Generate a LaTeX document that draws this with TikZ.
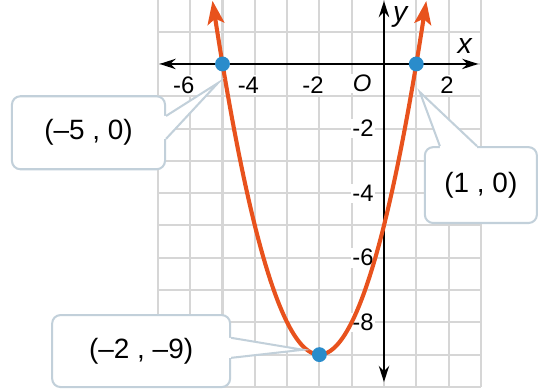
\documentclass[tikz,border=0pt]{standalone}
\usepackage{fontspec}
\setmainfont{Liberation Sans}
\usepackage{tikz}
\usetikzlibrary{positioning,arrows.meta,calc}
\definecolor{curveorange}{HTML}{E8521D}
\definecolor{ptblue}{HTML}{2A8CCB}
\definecolor{gridgray}{HTML}{D6D6D6}
\definecolor{calloutrim}{HTML}{C2D0DA}

\begin{document}
\begin{tikzpicture}[x=5mm,y=5mm,
  >={Stealth[length=2.5mm,width=1.6mm]},
  ticklbl/.style={font=\fontsize{10.5}{12}\selectfont,fill=white,inner sep=0.6pt},
  axislbl/.style={font=\fontsize{12.5}{14}\selectfont\itshape},
  callout/.style={draw=calloutrim,line width=0.9pt,fill=white,rounded corners=1.3mm,
    font=\fontsize{12.3}{14}\selectfont},
  ptdot/.style={circle,fill=ptblue,inner sep=0pt,minimum size=2.3mm}]
\useasboundingbox (-11.89,-10.06) rectangle (4.80,1.98);
\clip (-11.89,-10.06) rectangle (4.80,1.98);
% ---- grid ----
\draw[gridgray,line width=0.9pt,step=5mm] (-7,-10) grid (3,2);
% ---- tick labels ----
\foreach \t in {6,4,2}
  \node[ticklbl] (xtm\t) at (-\t-0.2,-0.65) {-\t};
\node[ticklbl] (xt2) at (1.95,-0.65) {2};
\node[ticklbl,font=\fontsize{10.5}{12}\selectfont\itshape] (orig) at (-0.68,-0.6) {O};
\foreach \t in {2,4,6,8}
  \node[ticklbl] (ytm\t) at (-0.65,-\t) {-\t};
% ---- axes ----
\draw[<->,line width=0.9pt] (-6.95,0) -- (2.92,0);
\draw[<->,line width=0.9pt] (0,-9.85) -- (0,1.95);
\node[axislbl] (xlbl) at (2.5,0.56) {x};
\node[axislbl] (ylbl) at (0.5,1.45) {y};
% ---- parabola y = x^2+4x-5 ----
\draw[curveorange,line width=1.8pt,
  {Stealth[length=3.6mm,width=2.6mm,inset=0.8mm]}-{Stealth[length=3.6mm,width=2.6mm,inset=0.8mm]}]
  plot[domain=-5.31:1.31,samples=90] (\x,{(\x)^2+4*(\x)-5});
% ---- points ----
\coordinate (pA) at (-5,0);
\coordinate (pB) at (1,0);
\coordinate (pV) at (-2,-9);
% ---- callouts ----
\node[callout,minimum width=23.7mm,minimum height=11.3mm] (cA) at (-9.15,-2.13) {(–5 , 0)};
\fill[white] ($(cA.east)+(-0.12,0.52)$) -- ($(cA.east)+(0,0.52)$) -- ($(pA)+(-0.14,-0.59)$)
  -- ($(cA.east)+(0,-0.19)$) -- ($(cA.east)+(-0.12,-0.19)$) -- cycle;
\draw[calloutrim,line width=0.9pt] ($(cA.east)+(0,0.52)$) -- ($(pA)+(-0.14,-0.59)$) -- ($(cA.east)+(0,-0.19)$);

\node[callout,minimum width=17.35mm,minimum height=11.75mm] (cB) at (3.0,-3.75) {(1 , 0)};
\fill[white] ($(cB.north)+(-1.27,-0.12)$) -- ($(cB.north)+(-1.27,0)$) -- ($(pB)+(0.11,-0.87)$)
  -- ($(cB.north)+(-0.12,0)$) -- ($(cB.north)+(-0.12,-0.12)$) -- cycle;
\draw[calloutrim,line width=0.9pt] ($(cB.north)+(-1.27,0)$) -- ($(pB)+(0.11,-0.87)$) -- ($(cB.north)+(-0.12,0)$);

\node[callout,minimum width=27.55mm,minimum height=11.15mm] (cV) at (-7.52,-8.89) {(–2 , –9)};
\fill[white] ($(cV.east)+(-0.12,0.41)$) -- ($(cV.east)+(0,0.41)$) -- ($(pV)+(-0.51,0.15)$)
  -- ($(cV.east)+(0,-0.21)$) -- ($(cV.east)+(-0.12,-0.21)$) -- cycle;
\draw[calloutrim,line width=0.9pt] ($(cV.east)+(0,0.41)$) -- ($(pV)+(-0.51,0.15)$) -- ($(cV.east)+(0,-0.21)$);
% ---- dots ----
\node[ptdot] (dA) at (pA) {};
\node[ptdot] (dB) at (pB) {};
\node[ptdot] (dV) at (pV) {};
\end{tikzpicture}
\end{document}
